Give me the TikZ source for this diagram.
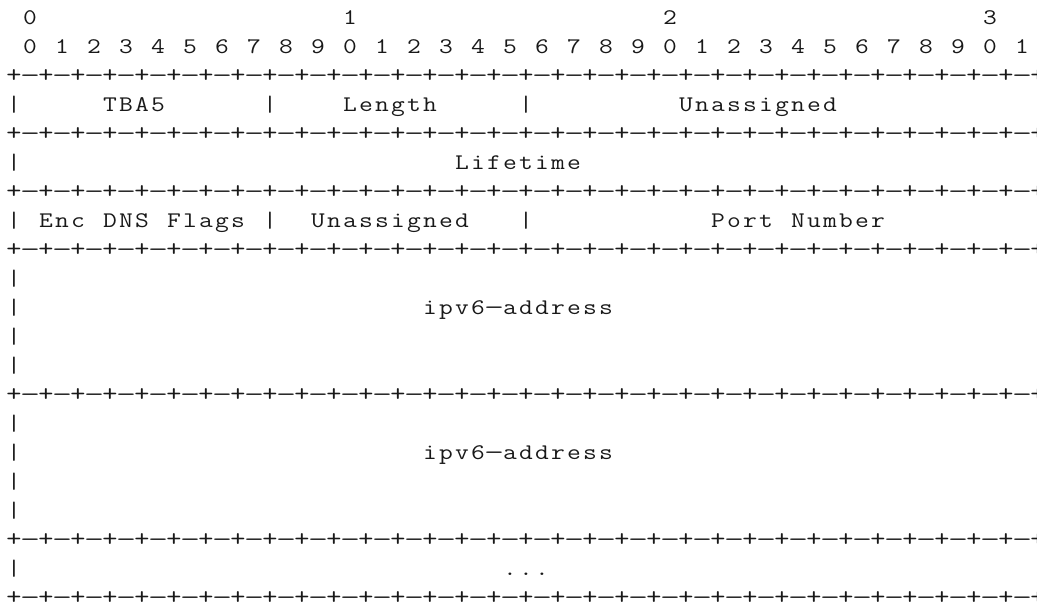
\documentclass[tikz,border=0pt]{standalone}
\usepackage{fontspec}
\usepackage{graphicx}
\setmonofont{Latin Modern Mono}[FakeStretch=1.2]
\makeatletter
\newcommand\cellstr[1]{\cell@loop#1\relax}
\def\cell@loop#1{\ifx\relax#1\else\cell@one{#1}\expandafter\cell@loop\fi}
\def\cell@one#1{\ifx-#1\makebox[16bp][c]{\scalebox{1.45}[1]{-}}\else
  \ifx+#1\makebox[16bp][c]{\scalebox{1.1}{+}}\else
  \makebox[16bp][c]{#1}\fi\fi}
\makeatother
\begin{document}
\begin{tikzpicture}[x=1bp,y=1bp,
  txt/.style={font=\ttfamily\fontsize{22.3bp}{29bp}\selectfont, inner sep=0pt, outer sep=0pt, anchor=base west, text=black!90}]
\useasboundingbox (0,0) rectangle (1037,-609);
\clip (0,0) rectangle (1037,-609);
\def\bl{24.8}
% ruler
\foreach \c/\d in {1/0,21/1,41/2,61/3}
  \node[txt] (rulA\c) at ({6+16*\c},-\bl) {\cellstr{\d}};
\foreach \k in {0,...,31}{
  \pgfmathtruncatemacro\d{mod(\k,10)}
  \pgfmathtruncatemacro\c{2*\k+1}
  \node[txt] (rulB\c) at ({6+16*\c},{-\bl-29}) {\cellstr{\d}};
}
% separators
\foreach \r in {2,4,6,8,13,18,20}
  \node[txt] (sep\r) at (6,{-\bl-29*\r}) {\cellstr{+-+-+-+-+-+-+-+-+-+-+-+-+-+-+-+-+-+-+-+-+-+-+-+-+-+-+-+-+-+-+-+-}};
% partial last plus at right edge
\foreach \r in {2,4,6,8,13,18,20}
  \node[txt] (end\r) at ({6+16*64},{-\bl-29*\r}) {\cellstr{+}};
% outer bars
\foreach \r in {3,5,7,9,10,11,12,14,15,16,17,19}
  \node[txt] (barL\r) at (6,{-\bl-29*\r}) {\cellstr{|}};
% inner bars
\foreach \r in {3,7}{
  \node[txt] (barA\r) at ({6+16*16},{-\bl-29*\r}) {\cellstr{|}};
  \node[txt] (barB\r) at ({6+16*32},{-\bl-29*\r}) {\cellstr{|}};
}
% labels
\node[txt] (tba) at ({6+16*6},{-\bl-29*3}) {\cellstr{TBA5}};
\node[txt] (len) at ({6+16*21},{-\bl-29*3}) {\cellstr{Length}};
\node[txt] (unA) at ({6+16*42},{-\bl-29*3}) {\cellstr{Unassigned}};
\node[txt] (life) at ({6+16*28},{-\bl-29*5}) {\cellstr{Lifetime}};
\node[txt] (enc) at ({6+16*2},{-\bl-29*7}) {\cellstr{Enc~DNS~Flags}};
\node[txt] (unB) at ({6+16*19},{-\bl-29*7}) {\cellstr{Unassigned}};
\node[txt] (port) at ({6+16*44},{-\bl-29*7}) {\cellstr{Port~Number}};
\node[txt] (ipA) at ({6+16*26},{-\bl-29*10}) {\cellstr{ipv6-address}};
\node[txt] (ipB) at ({6+16*26},{-\bl-29*15}) {\cellstr{ipv6-address}};
\node[txt] (dots) at ({6+16*31},{-\bl-29*19}) {\cellstr{...}};
\end{tikzpicture}
\end{document}
